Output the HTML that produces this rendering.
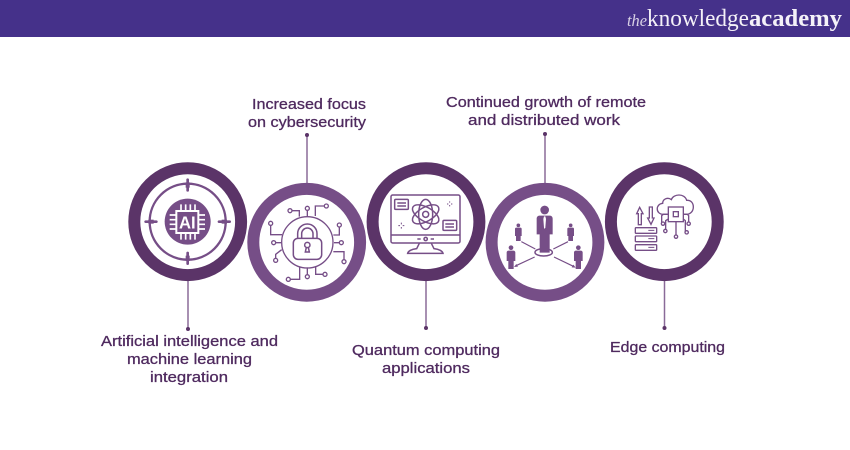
<!DOCTYPE html>
<html><head><meta charset="utf-8"><style>
html,body{margin:0;padding:0;background:#fff;width:850px;height:450px;overflow:hidden}
svg{display:block}
.t{font-family:"Liberation Sans",sans-serif;font-size:15px;fill:#4f2a5f;stroke:#4f2a5f;stroke-width:.3px}
</style></head><body>
<svg width="850" height="450" viewBox="0 0 850 450" xmlns="http://www.w3.org/2000/svg">
<rect width="850" height="450" fill="#fff"/>
<rect width="850" height="37" fill="#45318a"/>
<g font-family="Liberation Serif,serif" fill="#f4f1f8">
<text x="627" y="26" font-size="17" font-style="italic" textLength="20" lengthAdjust="spacingAndGlyphs" fill="#d9d2e6">the</text>
<text x="647" y="26" font-size="24" textLength="102" lengthAdjust="spacingAndGlyphs">knowledge</text>
<text x="749" y="26" font-size="24" font-weight="bold" textLength="93" lengthAdjust="spacingAndGlyphs">academy</text>
</g>

<!-- connectors -->
<g stroke="#8a6a98" stroke-width="1.5" fill="#5b3468">
<line x1="188" y1="280" x2="188" y2="329"/><circle cx="188" cy="329" r="2" stroke="none"/>
<line x1="307" y1="135" x2="307" y2="184"/><circle cx="307" cy="135" r="2" stroke="none"/>
<line x1="426" y1="280" x2="426" y2="328"/><circle cx="426" cy="328" r="2" stroke="none"/>
<line x1="545" y1="134" x2="545" y2="184"/><circle cx="545" cy="134" r="2" stroke="none"/>
<line x1="664.500" y1="280" x2="664.500" y2="328"/><circle cx="664.500" cy="328" r="2" stroke="none"/>
</g>

<!-- rings -->
<g fill="#fff" stroke-width="12">
<circle cx="187.700" cy="221.700" r="53.400" stroke="#5b3468"/>
<circle cx="306.700" cy="242.300" r="53.400" stroke="#764e87"/>
<circle cx="426" cy="221.700" r="53.400" stroke="#5b3468"/>
<circle cx="545" cy="242.300" r="53.400" stroke="#764e87"/>
<circle cx="664.300" cy="221.700" r="53.400" stroke="#5b3468"/>
</g>

<!-- AI icon -->
<g transform="translate(120 155) scale(.33333)" fill="none" stroke="#764e87">
<circle cx="203" cy="200" r="114" stroke-width="7"/>
<g stroke-width="8" stroke-linecap="round">
<line x1="203" y1="74" x2="203" y2="106"/><line x1="203" y1="294" x2="203" y2="326"/>
<line x1="77" y1="200" x2="109" y2="200"/><line x1="297" y1="200" x2="329" y2="200"/>
</g>
<g stroke-width="12"><line x1="203" y1="82" x2="203" y2="98"/><line x1="203" y1="302" x2="203" y2="318"/><line x1="85" y1="200" x2="101" y2="200"/><line x1="305" y1="200" x2="321" y2="200"/></g>
<circle cx="203" cy="200" r="69" fill="#764e87" stroke="none"/>
<rect x="169" y="168" width="66" height="66" stroke="#fff" stroke-width="6"/>
<g stroke="#fff" stroke-width="5">
<path d="M183 148v18M197 148v18M211 148v18M225 148v18M183 236v18M197 236v18M211 236v18M225 236v18M149 180h18M149 194h18M149 208h18M149 222h18M237 180h18M237 194h18M237 208h18M237 222h18"/>
</g>
<text x="202" y="221" text-anchor="middle" font-family="Liberation Sans,sans-serif" font-weight="bold" font-size="54" fill="#fff" stroke="none" textLength="50" lengthAdjust="spacingAndGlyphs">AI</text>
</g>

<!-- Lock icon -->
<g transform="translate(120 155) scale(.33333)" fill="none" stroke="#764e87" stroke-width="4">
<circle cx="562" cy="262" r="77"/>
<rect x="520" y="250" width="85" height="63" rx="14" stroke-width="4.500"/>
<path d="M533 250v-14a29 29 0 0 1 58 0v14M545 250v-14a17 17 0 0 1 34 0v14" stroke-width="4.500"/>
<circle cx="562" cy="270" r="8" stroke-width="4.500"/><path d="M559 277l-3 14h12l-3-14" stroke-width="4.500"/>
<path d="M516 167h22v18M562 167v18M619 153h-33v30M452 211v28h34M458 263h25M467 316v-18l18-14M658 216v24h-18M664 263h-22M672 320v-30h-32M505 373h34v-36M562 365v-28M615 358h-28v-22"/>
<g fill="#fff" stroke-width="4">
<circle cx="510" cy="167" r="6"/><circle cx="562" cy="160" r="6"/><circle cx="619" cy="153" r="6"/><circle cx="452" cy="205" r="6"/><circle cx="461" cy="263" r="6"/><circle cx="467" cy="316" r="6"/><circle cx="658" cy="210" r="6"/><circle cx="664" cy="263" r="6"/><circle cx="672" cy="320" r="6"/><circle cx="505" cy="373" r="6"/><circle cx="562" cy="365" r="6"/><circle cx="615" cy="358" r="6"/>
</g></g>

<!-- Monitor icon -->
<g transform="translate(360 155) scale(.33333)" fill="none" stroke="#764e87" stroke-width="4.500">
<rect x="93" y="120" width="207" height="144" rx="5"/>
<line x1="93" y1="240" x2="300" y2="240"/>
<circle cx="197" cy="252" r="5"/><path d="M172 252h10M212 252h10" />
<path d="M178 265l-8 16c-14 2-25 6-27 14h106c-2-8-13-12-27-14l-8-16M143 295h106"/>
<g stroke-width="4.500">
<ellipse cx="197" cy="178" rx="44" ry="21" transform="rotate(30 197 178)"/>
<ellipse cx="197" cy="178" rx="44" ry="21" transform="rotate(-30 197 178)"/>
<ellipse cx="197" cy="178" rx="21" ry="45"/>
</g>
<circle cx="197" cy="178" r="9"/>
<rect x="104" y="133" width="41" height="30" rx="3"/><path d="M112 144h26M112 153h26"/>
<rect x="249" y="196" width="41" height="30" rx="3"/><path d="M256 207h26M256 216h26"/>
<path d="M269 139v4M269 150v4M261 147h4M273 147h4M124 203v5M124 216v5M115 212h5M128 212h5" stroke-width="3"/>
</g>

<!-- People icon -->
<g transform="translate(360 155) scale(.33333)" fill="#764e87">
<circle cx="554" cy="165" r="13"/>
<path d="M538 182h32c6 1 8 5 8 10v46h-9v55h-30v-55h-9v-46c0-5 2-9 8-10z"/>
<path d="M552 184h4l2 8-2 26-2 4-2-4-2-26z" fill="#fff"/>
<ellipse cx="551" cy="292" rx="26" ry="11" fill="none" stroke="#764e87" stroke-width="4.500"/>
<g><circle cx="475" cy="211" r="5.500"/><path d="M469 218h12c3 0 4 2 4 4v21h-3v15h-14v-15h-3v-21c0-2 1-4 4-4z"/></g>
<g><circle cx="632" cy="211" r="5.500"/><path d="M626 218h12c3 0 4 2 4 4v21h-3v15h-14v-15h-3v-21c0-2 1-4 4-4z"/></g>
<g><circle cx="453" cy="278" r="7"/><path d="M446 287h14c4 0 6 3 6 5v26h-5v24h-16v-24h-5v-26c0-2 2-5 6-5z"/></g>
<g><circle cx="655" cy="278" r="7"/><path d="M648 287h14c4 0 6 3 6 5v26h-5v24h-16v-24h-5v-26c0-2 2-5 6-5z"/></g>
<g stroke="#764e87" stroke-width="3.500" fill="none"><path d="M484 260l42 22M624 260l-44 22M468 332l56-26M640 334l-58-28"/></g>
<path d="M462 336l12-1-5-8zM647 338l-12-1 5-8z"/>
</g>

<!-- Edge icon -->
<g transform="translate(600 155) scale(.33333)" fill="none" stroke="#764e87" stroke-width="4">
<path d="M119 157l-9 19h5v33h9v-33h5z" fill="#fff"/>
<path d="M153 208l9-19h-5v-33h-9v33h-5z" fill="#fff"/>
<rect x="106" y="218" width="64" height="17" rx="2"/><rect x="106" y="243" width="64" height="17" rx="2"/><rect x="106" y="269" width="64" height="17" rx="2"/>
<path d="M145 226h18M145 251h18M145 277h18" stroke-width="3"/>
<path d="M204 178h-14c-24 0-24-31-2-33 0-14 16-19 26-11 6-18 40-20 46 2 26-3 28 42-2 42h-6"/>
<rect x="205" y="156" width="45" height="44"/><rect x="220" y="170" width="15" height="15"/>
<path d="M205 178h-15l-5 4v22M205 192l-8 5v30h-4M228 200v44M250 192l6 5v33h4M250 178h12l4 4v22"/>
<g fill="#fff"><circle cx="189" cy="206" r="5"/><circle cx="196" cy="228" r="5"/><circle cx="228" cy="245" r="5"/><circle cx="260" cy="232" r="5"/><circle cx="266" cy="206" r="5"/></g>
</g>

<!-- labels -->
<g>
<text class="t" x="252" y="109" textLength="114" lengthAdjust="spacingAndGlyphs">Increased focus</text>
<text class="t" x="248" y="127" textLength="118" lengthAdjust="spacingAndGlyphs">on cybersecurity</text>
<text class="t" x="446" y="107" textLength="200" lengthAdjust="spacingAndGlyphs">Continued growth of remote</text>
<text class="t" x="468" y="125" textLength="152" lengthAdjust="spacingAndGlyphs">and distributed work</text>
<text class="t" x="101" y="346" textLength="177" lengthAdjust="spacingAndGlyphs">Artificial intelligence and</text>
<text class="t" x="127" y="364" textLength="125" lengthAdjust="spacingAndGlyphs">machine learning</text>
<text class="t" x="150" y="382" textLength="78" lengthAdjust="spacingAndGlyphs">integration</text>
<text class="t" x="352" y="355" textLength="148" lengthAdjust="spacingAndGlyphs">Quantum computing</text>
<text class="t" x="382" y="373" textLength="88" lengthAdjust="spacingAndGlyphs">applications</text>
<text class="t" x="610" y="352" textLength="115" lengthAdjust="spacingAndGlyphs">Edge computing</text>
</g>
</svg>
</body></html>
